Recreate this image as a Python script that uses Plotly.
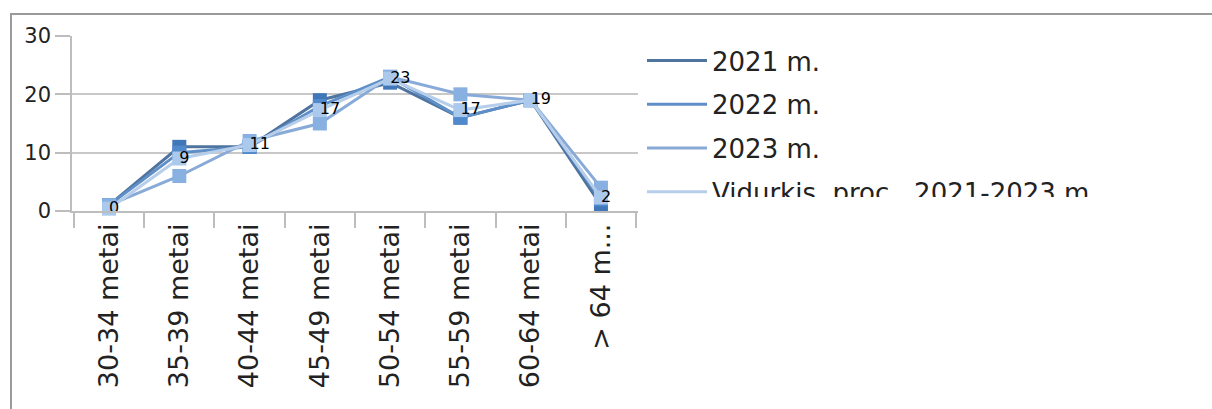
import plotly.graph_objects as go

# ---- data ----
categories = ["30-34 metai", "35-39 metai", "40-44 metai", "45-49 metai",
              "50-54 metai", "55-59 metai", "60-64 metai", "> 64 m..."]
series_names = ["2021 m.", "2022 m.", "2023 m.", "Vidurkis, proc., 2021-2023 m."]
values_2021 = [1, 11, 11, 19, 22, 16, 19, 1]
values_2022 = [1, 10, 11, 18, 23, 16, 19, 2]
values_2023 = [1, 6, 12, 15, 23, 20, 19, 4]
values_avg = [0.4, 9, 11.3, 17.3, 22.7, 17.3, 19, 2.3]
y_ticks = [0, 10, 20, 30]

W, H = 1212, 409
FONT = "DejaVu Sans"

line_colors = ["#4F74A0", "#5F8FC8", "#88AAD8", "#B6CEEA"]
marker_colors = ["#4077B8", "#5089CC", "#88B0E0", "#AAC9EC"]
all_values = [values_2021, values_2022, values_2023, values_avg]

fig = go.Figure()
for i, (name, vals) in enumerate(zip(series_names, all_values)):
    fig.add_trace(go.Scatter(
        x=categories, y=vals, name=name, mode="lines",
        line=dict(color=line_colors[i], width=3),
        legendgroup=f"g{i}", cliponaxis=False,
    ))
    fig.add_trace(go.Scatter(
        x=categories, y=vals, name=name, mode="markers",
        marker=dict(symbol="square", size=14, color=marker_colors[i]),
        legendgroup=f"g{i}", showlegend=False, cliponaxis=False,
    ))

# data labels for the average series
fig.add_trace(go.Scatter(
    x=categories, y=values_avg, mode="text", texttemplate="%{y:.0f}",
    textposition="middle right", textfont=dict(family=FONT, size=16, color="#000"),
    showlegend=False, hoverinfo="skip", cliponaxis=False,
))


def px_x(p):
    return p / W


def px_y(p):
    return 1 - p / H


fig.update_layout(
    width=W, height=H, autosize=False,
    margin=dict(l=0, r=0, t=0, b=0, autoexpand=False),
    paper_bgcolor="white", plot_bgcolor="white",
    font=dict(family=FONT, color="#222"),
    xaxis=dict(
        domain=[px_x(72), px_x(638)], type="category", automargin=False,
        tickson="boundaries", ticks="outside", ticklen=15, tickcolor="#BDBDBD",
        tickwidth=1.5, showline=True, linecolor="#BDBDBD", linewidth=1.5,
        showgrid=False, tickangle=-90, tickfont=dict(family=FONT, size=27, color="#222"),
        ticktext=categories, tickvals=categories,
    ),
    yaxis=dict(
        domain=[px_y(211), px_y(36)], range=[0, 30], tickvals=y_ticks, automargin=False,
        ticks="outside", ticklen=15, tickcolor="#BDBDBD", tickwidth=1.5,
        showline=True, linecolor="#BDBDBD", linewidth=1.5,
        showgrid=True, gridcolor="#C8C8C8", gridwidth=1.5, zeroline=False,
        tickfont=dict(family=FONT, size=21, color="#222"),
    ),
    legend=dict(
        x=px_x(642), y=px_y(37), xanchor="left", yanchor="top",
        font=dict(family=FONT, size=26, color="#222"),
        traceorder="grouped", tracegroupgap=7, itemwidth=60,
        maxheight=160, bgcolor="rgba(0,0,0,0)",
    ),
    shapes=[dict(
        type="rect", xref="paper", yref="paper",
        x0=px_x(11), x1=px_x(W + 30), y0=px_y(H + 30), y1=px_y(14),
        line=dict(color="#9A9A9A", width=2), fillcolor="rgba(0,0,0,0)", layer="below",
    )],
)

post = (
    "document.body.style.margin='0';"
    "var s=document.createElement('style');"
    "s.textContent='.legend .scrollbar{display:none !important;}';"
    "document.head.appendChild(s);"
)
fig.write_html("out.html", config={"displayModeBar": False}, post_script=post)
